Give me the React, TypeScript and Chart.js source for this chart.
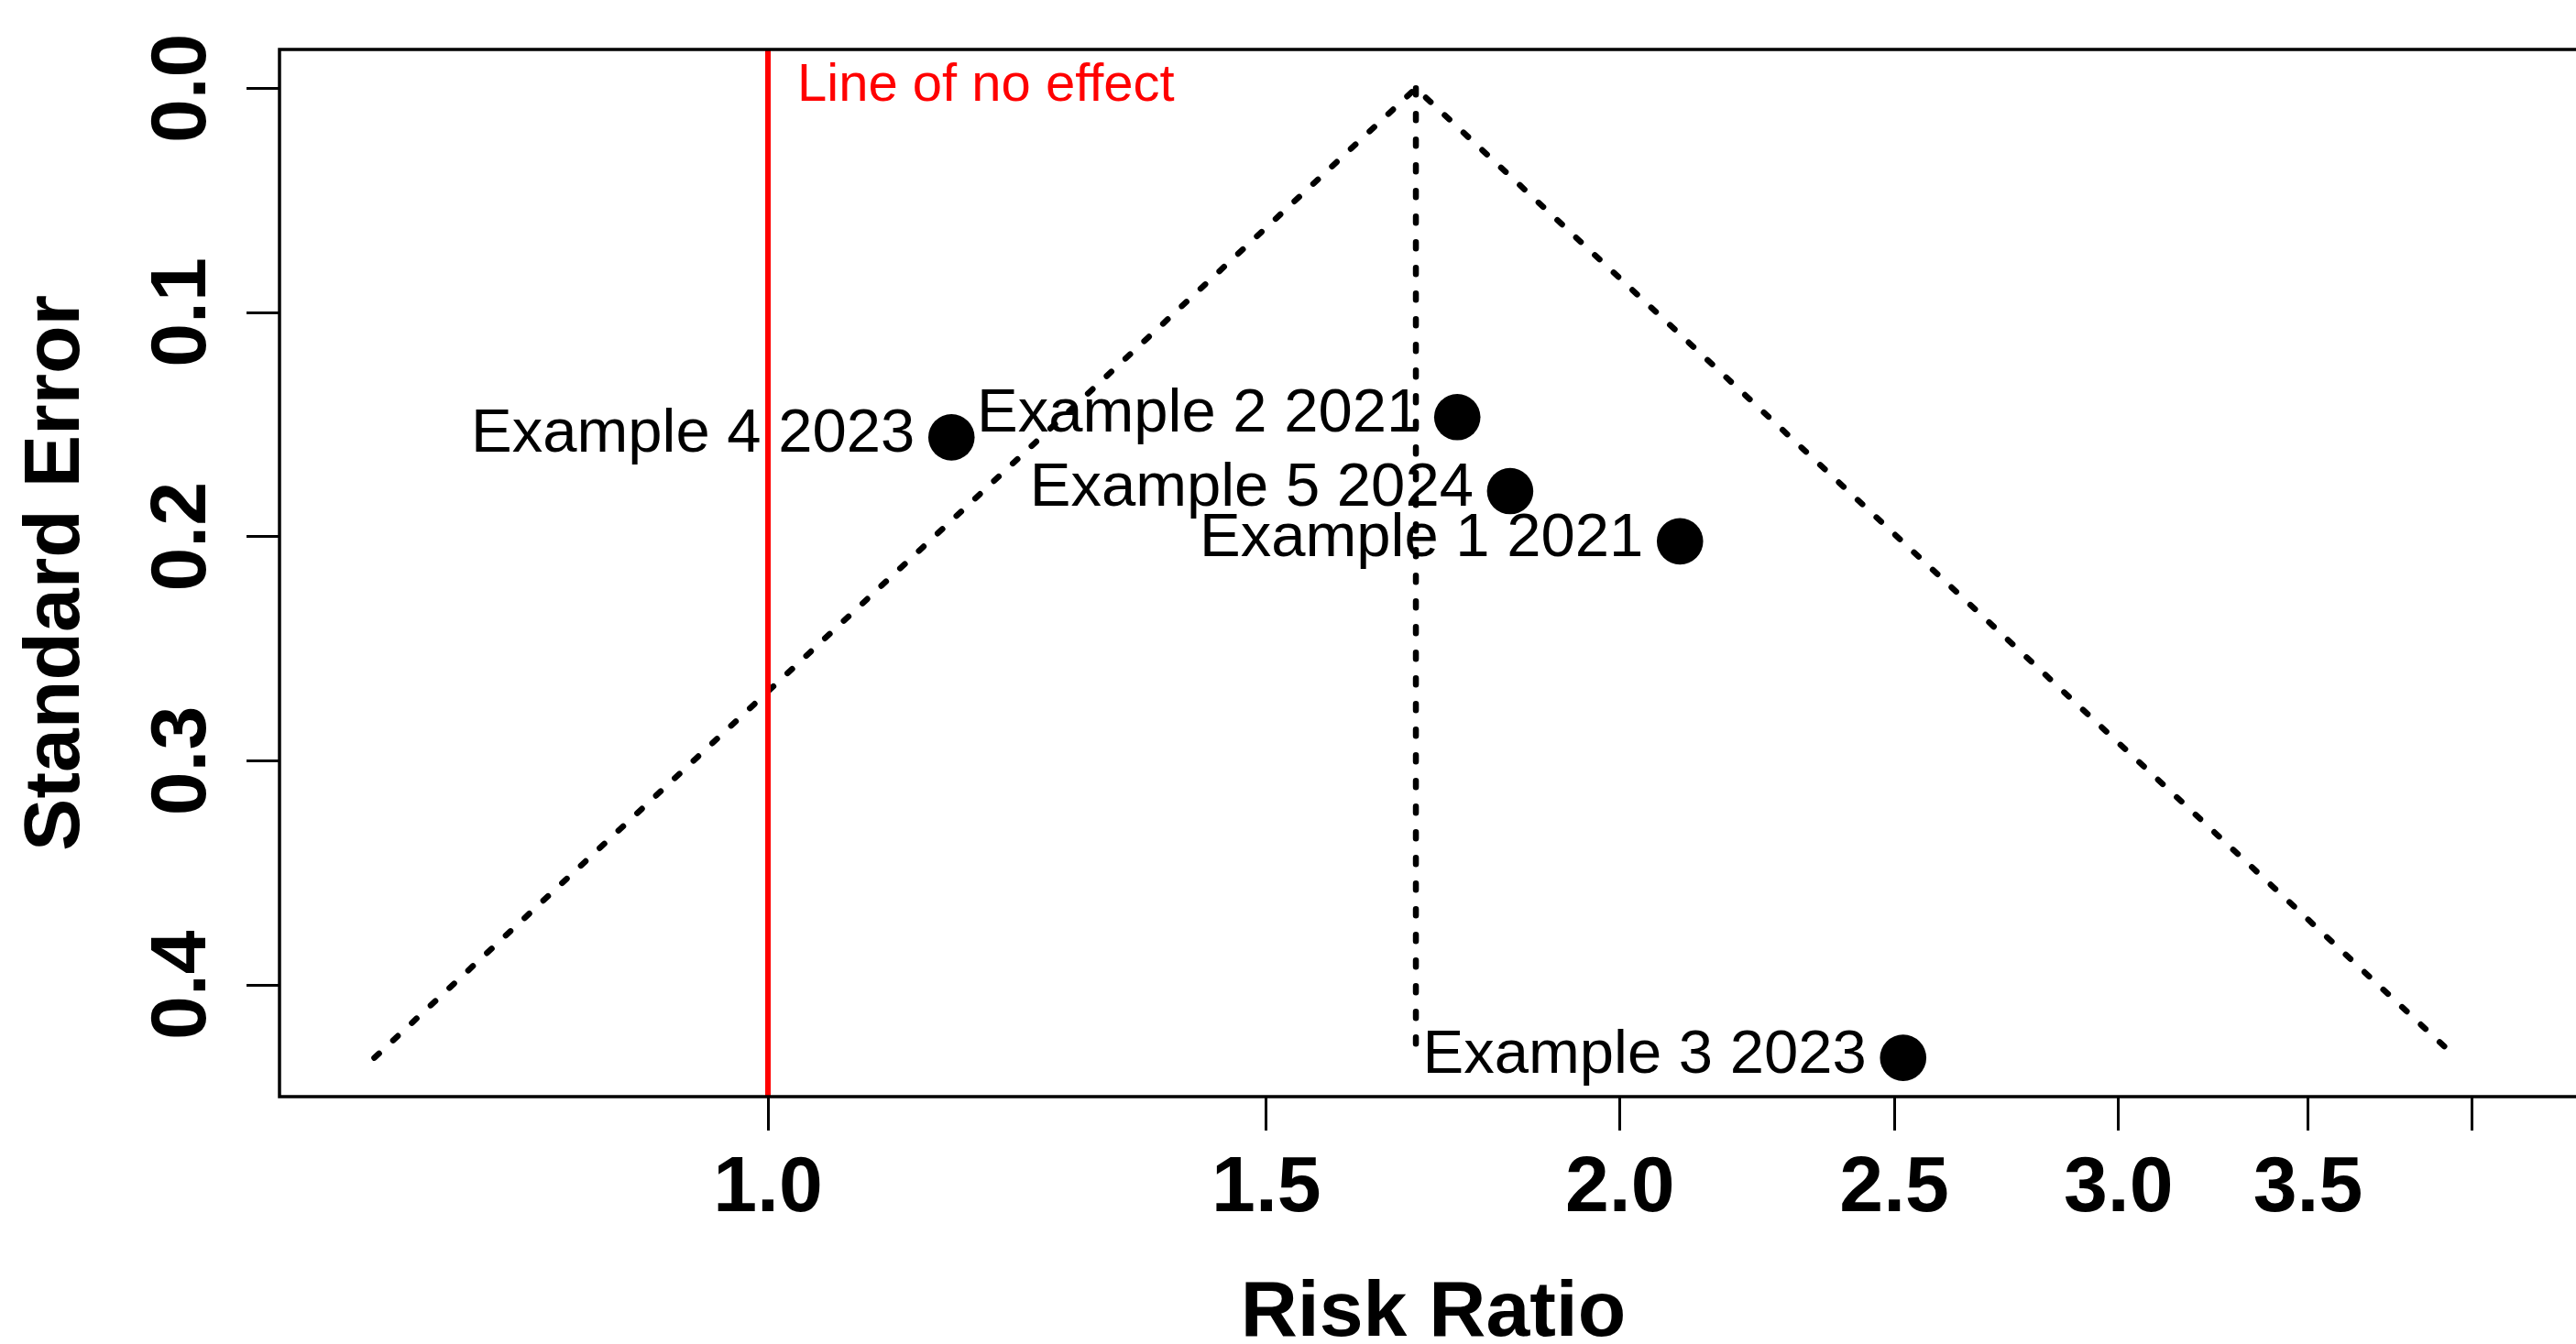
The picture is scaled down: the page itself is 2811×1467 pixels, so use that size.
import React, { useEffect, useRef } from 'react';
import { Chart, registerables } from 'chart.js';

Chart.register(...registerables);

// ---- data ----
const STUDIES = ['Example 1 2021', 'Example 2 2021', 'Example 3 2023', 'Example 4 2023', 'Example 5 2024'];
const RISK_RATIO = [2.1, 1.752, 2.518, 1.161, 1.829];
const STD_ERROR = [0.2021, 0.1467, 0.4325, 0.1557, 0.1797];

const POOLED_RR = 1.694;
const FUNNEL_RR = [0.726, 1.694, 3.95];
const FUNNEL_SE = [0.4325, 0, 0.4325];
const CENTER_RR = [POOLED_RR, POOLED_RR];
const CENTER_SE = [0, 0.4325];
const NO_EFFECT = 1;

const X_TICKS = [1, 1.5, 2, 2.5, 3, 3.5, 4];
const X_TICK_LABELS = ['1.0', '1.5', '2.0', '2.5', '3.0', '3.5', ''];
const Y_TICKS = [0, 0.1, 0.2, 0.3, 0.4];
const Y_TICK_LABELS = ['0.0', '0.1', '0.2', '0.3', '0.4'];

const X_MIN = 0.6721;
const X_MAX = 4.392;
const Y_MIN = -0.0173;
const Y_MAX = 0.4498;

const FONT = '"Liberation Sans", Arial, Helvetica, sans-serif';

const overlay = {
  id: 'overlay',
  afterDatasetsDraw(chart: any) {
    const { ctx, chartArea: a, scales } = chart;
    const xs = scales.x;
    const ys = scales.y;
    ctx.save();

    // study labels, to the left of each point
    const meta = chart.getDatasetMeta(0);
    ctx.font = `67px ${FONT}`;
    ctx.fillStyle = '#000';
    ctx.textAlign = 'right';
    ctx.textBaseline = 'alphabetic';
    meta.data.forEach((el: any, i: number) => {
      ctx.fillText(STUDIES[i], el.x - 40, el.y + 16);
    });

    // line of no effect
    const xr = xs.getPixelForValue(NO_EFFECT);
    ctx.strokeStyle = '#ff0000';
    ctx.lineWidth = 6;
    ctx.beginPath();
    ctx.moveTo(xr, a.top);
    ctx.lineTo(xr, a.bottom);
    ctx.stroke();
    ctx.fillStyle = '#ff0000';
    ctx.font = `58px ${FONT}`;
    ctx.textAlign = 'left';
    ctx.fillText('Line of no effect', xr + 32, a.top + 56);

    // plot box
    ctx.strokeStyle = '#000';
    ctx.lineWidth = 3.5;
    ctx.strokeRect(a.left, a.top, a.right - a.left, a.bottom - a.top);

    // tick labels
    ctx.fillStyle = '#000';
    ctx.font = `bold 86px ${FONT}`;
    ctx.textAlign = 'center';
    X_TICKS.forEach((v, i) => {
      ctx.fillText(X_TICK_LABELS[i], xs.getPixelForValue(v), a.bottom + 125);
    });
    Y_TICKS.forEach((v, i) => {
      ctx.save();
      ctx.translate(a.left - 81, ys.getPixelForValue(v));
      ctx.rotate(-Math.PI / 2);
      ctx.fillText(Y_TICK_LABELS[i], 0, 0);
      ctx.restore();
    });

    // axis titles
    ctx.fillText('Risk Ratio', (a.left + a.right) / 2, a.bottom + 261);
    ctx.save();
    ctx.translate(a.left - 219, (a.top + a.bottom) / 2);
    ctx.rotate(-Math.PI / 2);
    ctx.fillText('Standard Error', 0, 0);
    ctx.restore();

    ctx.restore();
  },
};

export default function App() {
  const ref = useRef<HTMLCanvasElement | null>(null);

  useEffect(() => {
    if (!ref.current) return;
    const dotted = {
      showLine: true,
      pointRadius: 0,
      borderColor: '#000',
      borderWidth: 6.5,
      borderDash: [7, 21],
      borderCapStyle: 'round',
      fill: false,
    };
    const chart = new Chart(ref.current, {
      type: 'scatter',
      data: {
        datasets: [
          {
            label: 'Studies',
            data: RISK_RATIO.map((x, i) => ({ x, y: STD_ERROR[i] })),
            pointRadius: 25.3,
            pointBackgroundColor: '#000',
            pointBorderWidth: 0,
            showLine: false,
          } as any,
          {
            label: 'Pooled',
            data: CENTER_RR.map((x, i) => ({ x, y: CENTER_SE[i] })),
            ...dotted,
          } as any,
          {
            label: 'Funnel',
            data: FUNNEL_RR.map((x, i) => ({ x, y: FUNNEL_SE[i] })),
            ...dotted,
          } as any,
        ],
      },
      options: {
        animation: false,
        responsive: false,
        maintainAspectRatio: false,
        devicePixelRatio: 1,
        events: [],
        layout: { autoPadding: false, padding: { top: 54, left: 0, right: 0, bottom: 0 } },
        plugins: { legend: { display: false }, tooltip: { enabled: false } },
        scales: {
          x: {
            type: 'logarithmic',
            position: 'bottom',
            min: X_MIN,
            max: X_MAX,
            afterBuildTicks: (s: any) => {
              s.ticks = X_TICKS.map((v) => ({ value: v }));
            },
            afterFit: (s: any) => {
              s.height = 270;
            },
            ticks: { display: false },
            border: { display: false },
            grid: {
              display: true,
              drawOnChartArea: false,
              drawTicks: true,
              tickLength: 37,
              tickWidth: 3,
              tickColor: '#000',
              color: '#000',
            },
          },
          y: {
            type: 'linear',
            position: 'left',
            reverse: true,
            min: Y_MIN,
            max: Y_MAX,
            afterBuildTicks: (s: any) => {
              s.ticks = Y_TICKS.map((v) => ({ value: v }));
            },
            afterFit: (s: any) => {
              s.width = 305;
            },
            ticks: { display: false },
            border: { display: false },
            grid: {
              display: true,
              drawOnChartArea: false,
              drawTicks: true,
              tickLength: 36,
              tickWidth: 3,
              tickColor: '#000',
              color: '#000',
            },
          },
        },
      } as any,
      plugins: [overlay],
    });
    return () => chart.destroy();
  }, []);

  return (
    <div
      style={{
        position: 'fixed',
        left: 0,
        top: 0,
        width: 2811,
        height: 1467,
        overflow: 'hidden',
        background: '#fff',
      }}
    >
      <canvas ref={ref} width={2823} height={1467} style={{ display: 'block', width: 2823, height: 1467 }} />
    </div>
  );
}
